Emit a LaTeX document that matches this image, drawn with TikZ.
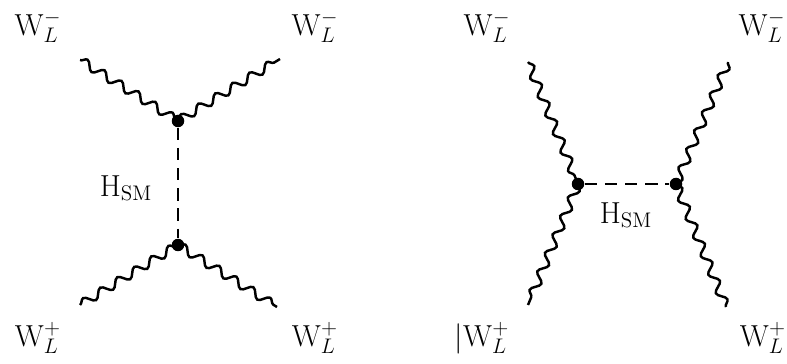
\documentclass[tikz,border=0pt]{standalone}
\usetikzlibrary{decorations.pathmorphing}
\begin{document}
\begin{tikzpicture}[x=0.02cm, y=-0.02cm,
    boson/.style={decorate, decoration={snake, amplitude=0.085cm, segment length=0.4cm}, line width=1.4pt},
    higgs/.style={dashed, dash pattern=on 7pt off 4.5pt, line width=1.3pt},
    vtx/.style={circle, fill, inner sep=0pt, minimum size=0.25cm},
    lbl/.style={font=\fontsize{17}{20}\selectfont}]
    \useasboundingbox (0,0) rectangle (787,364);
    % left: s-channel-like exchange
    \node[vtx] (up) at (178,121) {};
    \node[vtx] (dn) at (178,245) {};
    \coordinate (tl) at (80,60);
    \coordinate (tr) at (280,59);
    \coordinate (bl) at (80,305);
    \coordinate (br) at (277,307);
    \draw[boson] (tl) -- (up.center);
    \draw[boson] (up.center) -- (tr);
    \draw[boson] (bl) -- (dn.center);
    \draw[boson] (dn.center) -- (br);
    \draw[higgs] (up) -- (dn);
    \node[lbl] (wtl) at (38,27) {$\mathrm{W}^-_L$};
    \node[lbl] (wtr) at (315,27) {$\mathrm{W}^-_L$};
    \node[lbl] (wbl) at (38,338) {$\mathrm{W}^+_L$};
    \node[lbl] (wbr) at (315,338) {$\mathrm{W}^+_L$};
    \node[lbl] (hl) at (126,188) {$\mathrm{H}_{\mathrm{SM}}$};
    % right: t-channel exchange
    \node[vtx] (lv) at (578,184) {};
    \node[vtx] (rv) at (676,184) {};
    \coordinate (tl2) at (528,62);
    \coordinate (bl2) at (528,305);
    \coordinate (tr2) at (728,62);
    \coordinate (br2) at (726,307);
    \draw[boson] (tl2) -- (lv.center);
    \draw[boson] (lv.center) -- (bl2);
    \draw[boson] (tr2) -- (rv.center);
    \draw[boson] (rv.center) -- (br2);
    \draw[higgs] (lv) -- (rv);
    \node[lbl] (wtl2) at (487,27) {$\mathrm{W}^-_L$};
    \node[lbl] (wtr2) at (762,27) {$\mathrm{W}^-_L$};
    \node[lbl] (wbl2) at (482,338) {$|\mathrm{W}^+_L$};
    \node[lbl] (wbr2) at (763,338) {$\mathrm{W}^+_L$};
    \node[lbl] (hr) at (626,215) {$\mathrm{H}_{\mathrm{SM}}$};
\end{tikzpicture}
\end{document}
